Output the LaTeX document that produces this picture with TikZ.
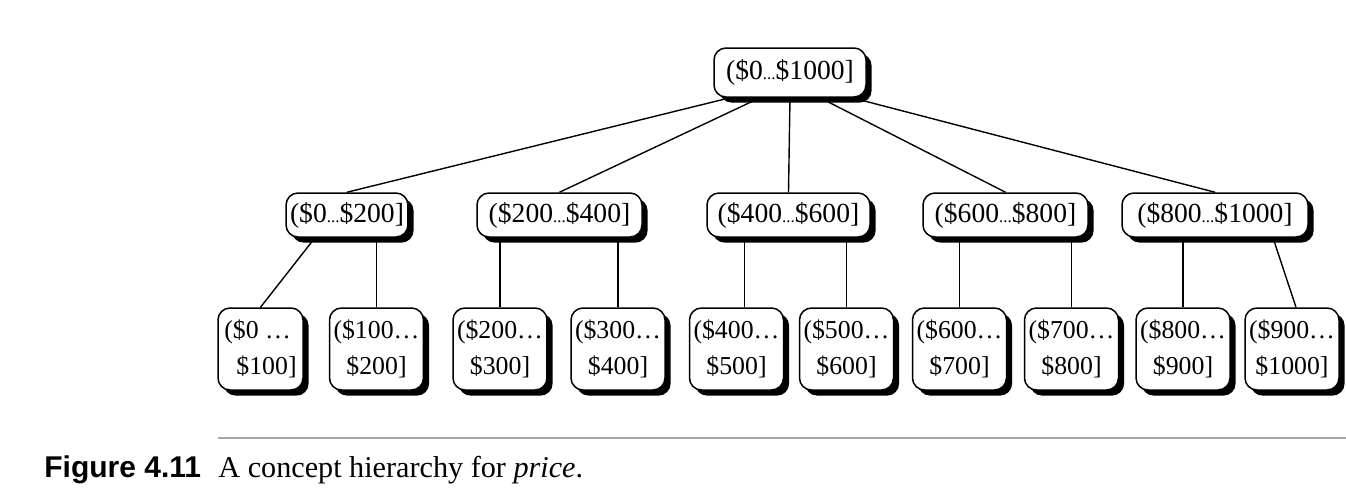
\documentclass[tikz,border=0pt]{standalone}
\usepackage{fontspec}
\setmainfont{Liberation Serif}
\newfontfamily\figfont{Liberation Sans}
\tikzset{>=latex}
\usetikzlibrary{shadows,backgrounds}
\newcommand{\lowdots}{{\fontsize{8.5}{9}\selectfont...}}
\tikzstyle{rangebox} = [draw, fill=white, rectangle, rounded corners=6pt, line width=0.75pt, drop shadow={shadow xshift=2.8pt, shadow yshift=-2.8pt, fill=black, opacity=1}, font=\fontsize{13.8}{17}\selectfont, inner sep=2pt]
\tikzstyle{leafbox} = [rangebox, minimum width=46pt, minimum height=41pt, align=center, font=\fontsize{12.9}{18}\selectfont]
\tikzstyle{link} = [line width=0.7pt]

\begin{document}
\begin{tikzpicture}[x=0.5pt,y=-0.5pt]
\useasboundingbox (0,0) rectangle (1346,504);

% Diagram nodes
\node[rangebox, minimum width=76pt, minimum height=24.5pt] (all) at (790,72.5) {(\$0\lowdots\$1000]};

\node[rangebox, minimum width=60pt, minimum height=22pt] (r0) at (347,215) {(\$0\lowdots\$200]};
\node[rangebox, minimum width=82.5pt, minimum height=22pt] (r2) at (559.5,215) {(\$200\lowdots\$400]};
\node[rangebox, minimum width=81.5pt, minimum height=22pt] (r4) at (788.5,215) {(\$400\lowdots\$600]};
\node[rangebox, minimum width=82.5pt, minimum height=22pt] (r6) at (1005.5,215) {(\$600\lowdots\$800]};
\node[rangebox, minimum width=93pt, minimum height=22pt] (r8) at (1215,215) {(\$800\lowdots\$1000]};

\node[leafbox, minimum width=42.5pt, align=left] (b0) at (260.5,349) {(\$0 …\\\hspace*{6pt}\$100]};
\node[leafbox] (b1) at (376.5,349) {(\$100…\\\$200]};
\node[leafbox] (b2) at (500,349) {(\$200…\\\$300]};
\node[leafbox] (b3) at (618,349) {(\$300…\\\$400]};
\node[leafbox] (b4) at (736.5,349) {(\$400…\\\$500]};
\node[leafbox] (b5) at (846.5,349) {(\$500…\\\$600]};
\node[leafbox] (b6) at (959.5,349) {(\$600…\\\$700]};
\node[leafbox] (b7) at (1071.5,349) {(\$700…\\\$800]};
\node[leafbox] (b8) at (1183,349) {(\$800…\\\$900]};
\node[leafbox] (b9) at (1292,349) {(\$900…\\\$1000]};

\coordinate (b4top) at ([xshift=4pt]b4.north);

% Draw connectors
\begin{pgfonlayer}{background}
\draw[link] ([xshift=-30pt]all.south) -- (r0.north);
\draw[link] ([xshift=-15pt]all.south) -- (r2.north);
\draw[link] (all.south) -- (r4.north);
\draw[link] ([xshift=15pt]all.south) -- (r6.north);
\draw[link] ([xshift=31pt]all.south) -- (r8.north);

\draw[link] ([xshift=-16pt]r0.south) -- (b0.north);
\draw[link] (r0.south -| b1.north) -- (b1.north);
\draw[link] (r2.south -| b2.north) -- (b2.north);
\draw[link] (r2.south -| b3.north) -- (b3.north);
\draw[link] (r4.south -| b4top) -- (b4top);
\draw[link] (r4.south -| b5.north) -- (b5.north);
\draw[link] (r6.south -| b6.north) -- (b6.north);
\draw[link] (r6.south -| b7.north) -- (b7.north);
\draw[link] (r8.south -| b8.north) -- (b8.north);
\draw[link] ([xshift=29pt]r8.south) -- ([xshift=2pt]b9.north);
\end{pgfonlayer}

% Caption
\draw[gray!70, line width=1pt] (218,438) -- (1346,438);
\node[anchor=base west, inner sep=0, font=\figfont\bfseries\fontsize{15}{18}\selectfont] (fignum) at (44,477) {Figure 4.11};
\node[anchor=base west, inner sep=0, font=\fontsize{15.1}{18}\selectfont] (figtext) at (218,477) {A concept hierarchy for \textit{price}.};

\end{tikzpicture}
\end{document}
